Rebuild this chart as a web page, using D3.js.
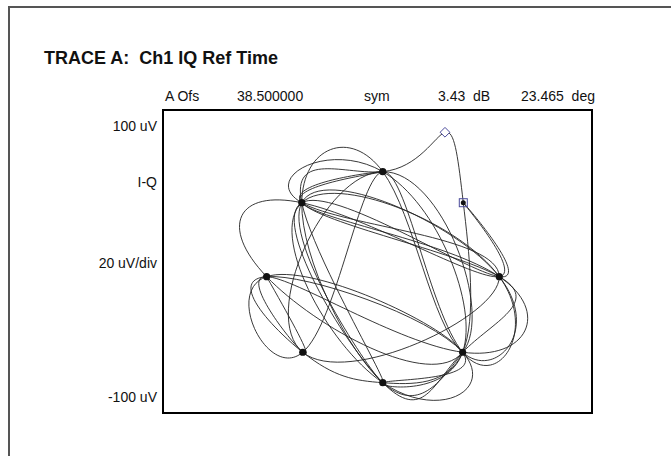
<!DOCTYPE html>
<html>
<head>
<meta charset="utf-8">
<script src="https://cdn.jsdelivr.net/npm/d3@7"></script>
<style>
  body { margin: 0; background: #fff; }
  text { font-family: "Liberation Sans", Arial, sans-serif; fill: #111; }
  .hdr { white-space: pre; }
</style>
</head>
<body>
<div id="chart"></div>
<script>
// constellation symbol positions (uV), index = phase step of 45 deg
var symI = [73.8, 52.0, 3.2, -45.9, -67.2, -45.3, 3.2, 51.6];
var symQ = [-10.0, 38.8, 59.3, 38.8, -10.0, -59.9, -80.0, -59.9];

// symbol sequence
var symSeq = [4,5,4,7,0,3,2,3,0,7,6,3,0,1,0,3,4,7,2,5,0,3,2,7,6,7,4,5,2,7,0,3,6,7,4,5,6,7,1,2,3,6,3,0,7,2,3,6,7];

// marker A (diamond) sits on the trace at 38.5 sym, square on symbol 38
var markA = {i: 40.9, q: 85.3};
var markSym = 38;

// header / axis text
var title = "TRACE A:  Ch1 IQ Ref Time";
var headerText = ["A Ofs", "38.500000", "sym", "3.43  dB", "23.465  deg"];
var headerX = [165, 237, 364, 438, 521];
var yText = ["100 uV", "I-Q", "20 uV/div", "-100 uV"];
var yTextY = [131, 187, 268, 402];

var W = 671, H = 456;
var box = {left: 163, top: 110, right: 592, bottom: 413};

var svg = d3.select("#chart").append("svg")
    .attr("width", W)
    .attr("height", H);

svg.append("rect").attr("width", W).attr("height", H).attr("fill", "#fff");

// outer frame (only left and top edges show)
svg.append("path")
    .attr("d", "M9," + H + "V7H" + W)
    .attr("fill", "none")
    .attr("stroke", "#555")
    .attr("stroke-width", 2);

svg.append("text")
    .attr("x", 44)
    .attr("y", 64)
    .style("font-size", "18px")
    .style("font-weight", "bold")
    .attr("class", "hdr")
    .text(title);

svg.selectAll(".htxt")
    .data(headerText)
    .enter().append("text")
    .attr("class", "htxt hdr")
    .attr("x", function(d, i) { return headerX[i]; })
    .attr("y", 101)
    .style("font-size", "14px")
    .text(function(d) { return d; });

svg.selectAll(".ytxt")
    .data(yText)
    .enter().append("text")
    .attr("class", "ytxt")
    .attr("text-anchor", "end")
    .attr("x", 157)
    .attr("y", function(d, i) { return yTextY[i]; })
    .style("font-size", "14px")
    .text(function(d) { return d; });

var xScale = d3.scaleLinear().domain([-130, 130]).range([box.left, box.right]),
    yScale = d3.scaleLinear().domain([-100, 100]).range([box.bottom, box.top]);

var plot = svg.append("g");

// trace knots: symbols in order, with marker A between 38 and 39
var knots = symSeq.map(function(k) { return {i: symI[k], q: symQ[k]}; });
knots.splice(markSym + 1, 0, markA);

var line = d3.line()
    .x(function(d) { return xScale(d.i); })
    .y(function(d) { return yScale(d.q); })
    .curve(d3.curveNatural);

plot.append("path")
    .datum(knots)
    .attr("d", line)
    .attr("fill", "none")
    .attr("stroke", "#222")
    .attr("stroke-width", 0.9)
    .attr("stroke-linejoin", "round");

// symbol dots
plot.selectAll(".dot")
    .data(d3.range(symI.length))
    .enter().append("circle")
    .attr("class", "dot")
    .attr("cx", function(k) { return xScale(symI[k]); })
    .attr("cy", function(k) { return yScale(symQ[k]); })
    .attr("r", function(k) { return k === symSeq[markSym] ? 2.5 : 3.6; })
    .attr("fill", "#111");

// markers
var sk = symSeq[markSym];
plot.append("rect")
    .attr("x", xScale(symI[sk]) - 4)
    .attr("y", yScale(symQ[sk]) - 4)
    .attr("width", 8)
    .attr("height", 8)
    .attr("fill", "none")
    .attr("stroke", "#4b4b9b")
    .attr("stroke-width", 1);

plot.append("path")
    .attr("d", d3.symbol().type(d3.symbolDiamond2).size(60))
    .attr("transform", "translate(" + xScale(markA.i) + "," + yScale(markA.q) + ")")
    .attr("fill", "#fff")
    .attr("stroke", "#4b4b9b")
    .attr("stroke-width", 1);

// plot box
svg.append("rect")
    .attr("x", box.left)
    .attr("y", box.top)
    .attr("width", box.right - box.left)
    .attr("height", box.bottom - box.top)
    .attr("fill", "none")
    .attr("stroke", "#000")
    .attr("stroke-width", 2);
</script>
</body>
</html>
